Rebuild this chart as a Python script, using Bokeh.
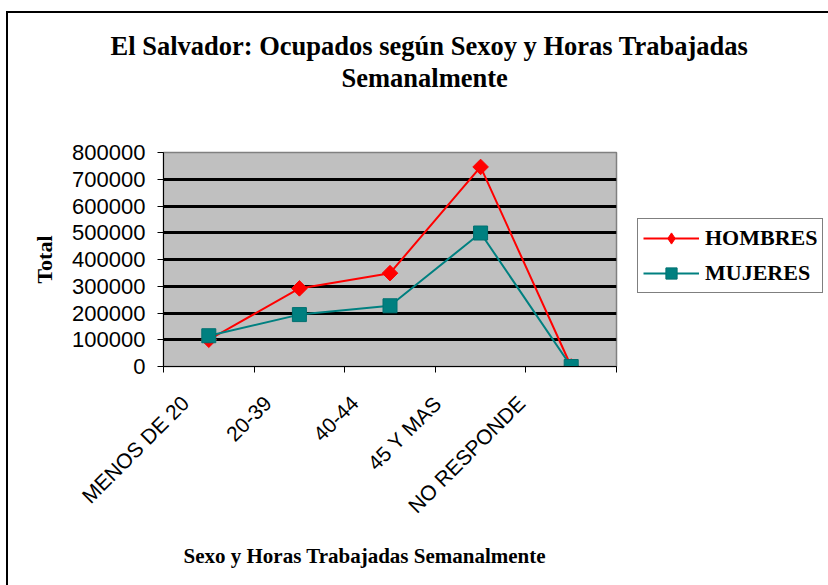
import math
from bokeh.plotting import figure
from bokeh.models import (FixedTicker, Legend, LegendItem, Title, Range1d, NumeralTickFormatter)
from bokeh.embed import file_html
from bokeh.resources import INLINE

categories = ["MENOS DE 20", "20-39", "40-44", "45 Y MAS", "NO RESPONDE"]
hombres = [100000, 292000, 349000, 746000, 0]
mujeres = [115000, 194000, 227000, 499000, 0]
y_ticks = [0, 100000, 200000, 300000, 400000, 500000, 600000, 700000, 800000]
title_lines = ["El Salvador: Ocupados según Sexoy y Horas Trabajadas", "Semanalmente"]
x_title = "Sexo y Horas Trabajadas Semanalmente"
y_title = "Total"

# category centres, and where each rotated label ends (labels sit left of centre, as drawn)
xs = [i + 0.5 for i in range(len(categories))]
label_shift = [0.26, 0.35, 0.39, 0.47, 0.55]
label_pos = [x - s for x, s in zip(xs, label_shift)]

SERIF = "Liberation Serif"
SANS = "Liberation Sans"

p = figure(width=828, height=585, output_backend="svg", toolbar_location=None,
           x_range=Range1d(0, len(categories)), y_range=Range1d(0, 800000),
           min_border_left=163, min_border_top=152, min_border_right=212, min_border_bottom=219,
           frame_width=453, frame_height=214)

p.background_fill_color = "#C0C0C0"
p.border_fill_color = None
p.outline_line_color = "#808080"
p.outline_line_width = 1.5
# outer chart border (left and top edges; the others are cropped away in the reference)
p.styles = {
    "background": ("linear-gradient(#000,#000) 6px 11px / 2px 2000px no-repeat, "
                   "linear-gradient(#000,#000) 6px 11px / 2000px 2px no-repeat, white"),
}

# y axis
p.yaxis.ticker = FixedTicker(ticks=y_ticks, minor_ticks=[])
p.yaxis.formatter = NumeralTickFormatter(format="0")
p.yaxis.major_tick_out = 6
p.yaxis.major_tick_in = 0
p.yaxis.minor_tick_line_color = None
p.yaxis.major_label_text_font = SANS
p.yaxis.major_label_text_font_size = "22px"
p.yaxis.major_label_text_color = "black"
p.yaxis.major_label_standoff = 12
p.yaxis.axis_line_color = "black"
p.yaxis.major_tick_line_color = "black"
p.yaxis.axis_label = y_title
p.yaxis.axis_label_text_font = SERIF
p.yaxis.axis_label_text_font_style = "bold"
p.yaxis.axis_label_text_font_size = "22px"
p.yaxis.axis_label_text_color = "black"
p.yaxis.axis_label_standoff = 12

# x axis
p.xaxis.ticker = FixedTicker(ticks=label_pos, minor_ticks=list(range(len(categories) + 1)))
p.xaxis.major_label_overrides = {x: c for x, c in zip(label_pos, categories)}
p.xaxis.major_tick_line_color = None
p.xaxis.minor_tick_line_color = "black"
p.xaxis.minor_tick_out = 6
p.xaxis.minor_tick_in = 0
p.xaxis.major_label_orientation = math.pi / 4
p.xaxis.major_label_text_font = SANS
p.xaxis.major_label_text_font_size = "21px"
p.xaxis.major_label_text_color = "black"
p.xaxis.major_label_standoff = 27
p.xaxis.axis_line_color = "black"

# grid
p.xgrid.grid_line_color = None
p.ygrid.ticker = FixedTicker(ticks=y_ticks[1:-1])
p.ygrid.grid_line_color = "black"
p.ygrid.grid_line_width = 3

# series
r_h_line = p.line(xs, hombres, line_color="#FF0000", line_width=2)
# diamond key (drawn underneath the rotated squares, so only the legend shows it)
r_h_key = p.scatter(xs, hombres, marker="diamond", size=12,
                    fill_color="#FF0000", line_color="#FF0000")
r_h_pts = p.scatter(xs, hombres, marker="square", angle=math.pi / 4, size=11,
                    fill_color="#FF0000", line_color="#FF0000")
r_m_line = p.line(xs, mujeres, line_color="#008080", line_width=2)
r_m_pts = p.scatter(xs, mujeres, marker="square", size=14,
                    fill_color="#008080", line_color="#007070")

legend = Legend(items=[LegendItem(label="HOMBRES", renderers=[r_h_line, r_h_key]),
                       LegendItem(label="MUJERES", renderers=[r_m_line, r_m_pts])],
                location=(21, 73))
legend.label_text_font = SERIF
legend.label_text_font_style = "bold"
legend.label_text_font_size = "22px"
legend.label_text_color = "black"
legend.glyph_width = 56
legend.glyph_height = 28
legend.label_height = 28
legend.label_standoff = 6
legend.spacing = 7
legend.padding = 5
legend.margin = 0
legend.border_line_color = "black"
legend.border_line_width = 1
legend.background_fill_color = "white"
legend.background_fill_alpha = 1
p.add_layout(legend, "right")

# chart title: spacer next to the frame, then line 2, then line 1
p.add_layout(Title(text=" ", text_font_size="1px", standoff=57), "above")
p.add_layout(Title(text=title_lines[1], align="left", offset=178, standoff=0,
                   text_font=SERIF, text_font_style="bold", text_font_size="26.5px",
                   text_color="black"), "above")
p.add_layout(Title(text=title_lines[0], align="left", offset=-53, standoff=0,
                   text_font=SERIF, text_font_style="bold", text_font_size="26.5px",
                   text_color="black"), "above")

# x axis title below the category labels
p.add_layout(Title(text=x_title, align="left", offset=20, standoff=30,
                   vertical_align="top",
                   text_font=SERIF, text_font_style="bold", text_font_size="21px",
                   text_color="black"), "below")

html = file_html(p, INLINE)
open("out.html", "w").write(html)
